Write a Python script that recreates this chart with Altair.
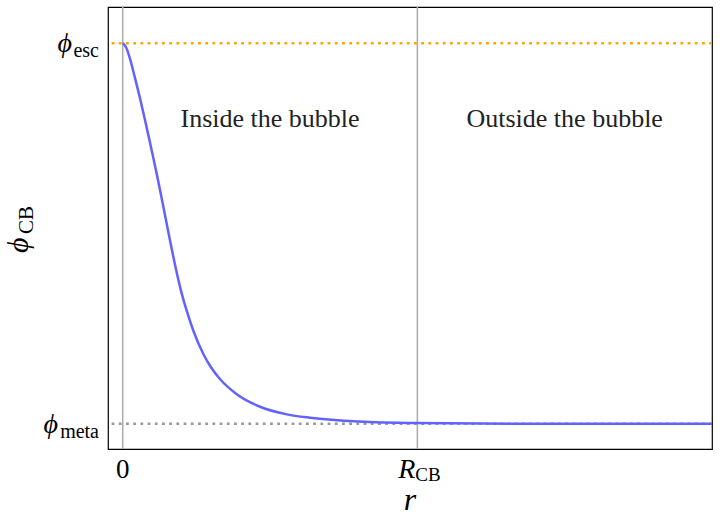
import altair as alt
import pandas as pd

# ---- data ----
r_vals = [0.0, 0.012, 0.025, 0.042, 0.059, 0.075, 0.090, 0.104, 0.115, 0.130,
          0.144, 0.161, 0.178, 0.197, 0.220, 0.240, 0.274, 0.300, 0.330, 0.387,
          0.466, 0.557, 0.636, 0.800, 1.0, 1.4, 2.0]
phi_vals = [1.0, 0.988, 0.958, 0.907, 0.854, 0.800, 0.748, 0.698, 0.658, 0.601,
            0.546, 0.480, 0.416, 0.352, 0.290, 0.244, 0.183, 0.148, 0.118, 0.078,
            0.045, 0.025, 0.016, 0.006, 0.002, 0.0, 0.0]
phi_esc = 1.0
phi_meta = 0.0
r_bubble = 1.0
x_ticks = [0.0, r_bubble]
y_ticks = [phi_meta, phi_esc]
region_labels = ["Inside the bubble", "Outside the bubble"]
region_r = [0.5, 1.5]
region_phi = [0.8, 0.8]

FONT = "Liberation Serif"
X = alt.Scale(domain=[-0.05, 2.0], nice=False, zero=False)
Y = alt.Scale(domain=[-0.066, 1.095], nice=False, zero=False)

curve_df = pd.DataFrame({"r": r_vals, "phi": phi_vals})
vlines_df = pd.DataFrame({"r": x_ticks})
esc_df = pd.DataFrame({"phi": [phi_esc]})
meta_df = pd.DataFrame({"phi": [phi_meta]})
regions_df = pd.DataFrame({"r": region_r, "phi": region_phi, "label": region_labels})

axis_x = alt.Axis(values=x_ticks, labels=False, title=None, grid=False, domain=False,
                  tickColor="black", tickSize=5, tickWidth=1)
axis_y = alt.Axis(values=y_ticks, labels=False, title=None, grid=False, domain=False,
                  tickColor="black", tickSize=5, tickWidth=1)

vlines = alt.Chart(vlines_df).mark_rule(color="#aaaaaa", strokeWidth=1.5).encode(
    x=alt.X("r:Q", scale=X, axis=axis_x),
)
meta_line = alt.Chart(meta_df).mark_rule(color="#999999", strokeWidth=2.5,
                                         strokeDash=[2.8, 4.4]).encode(
    y=alt.Y("phi:Q", scale=Y, axis=axis_y),
)
esc_line = alt.Chart(esc_df).mark_rule(color="#ffa500", strokeWidth=2.5,
                                       strokeDash=[2.8, 4.4]).encode(
    y=alt.Y("phi:Q", scale=Y, axis=None),
)
curve = alt.Chart(curve_df).mark_line(color="#6262ff", strokeWidth=2.5,
                                      interpolate="monotone").encode(
    x=alt.X("r:Q", scale=X, axis=None),
    y=alt.Y("phi:Q", scale=Y, axis=None),
)
regions = alt.Chart(regions_df).mark_text(font=FONT, fontSize=26, color="#222222",
                                          baseline="middle", align="center").encode(
    x=alt.X("r:Q", scale=X, axis=None),
    y=alt.Y("phi:Q", scale=Y, axis=None),
    text="label:N",
)

# ---- tick labels (math style) ----
zero_lbl = alt.Chart(pd.DataFrame({"r": [0.0], "t": ["0"]})).mark_text(
    font=FONT, fontSize=27, align="center", baseline="alphabetic", color="black"
).encode(x=alt.X("r:Q", scale=X, axis=None), y=alt.value(471), text="t:N")
R_lbl = alt.Chart(pd.DataFrame({"r": [r_bubble], "t": ["R"]})).mark_text(
    font=FONT, fontSize=28, fontStyle="italic", align="right", baseline="alphabetic",
    dx=-2, color="black"
).encode(x=alt.X("r:Q", scale=X, axis=None), y=alt.value(471), text="t:N")
CB_lbl = alt.Chart(pd.DataFrame({"r": [r_bubble], "t": ["CB"]})).mark_text(
    font=FONT, fontSize=19, align="left", baseline="alphabetic", dx=-2, color="black"
).encode(x=alt.X("r:Q", scale=X, axis=None), y=alt.value(474), text="t:N")

esc_phi = alt.Chart(pd.DataFrame({"phi": [phi_esc], "t": ["ϕ"]})).mark_text(
    font=FONT, fontSize=28, fontStyle="italic", align="right", baseline="alphabetic",
    dy=9, color="black"
).encode(x=alt.value(-36), y=alt.Y("phi:Q", scale=Y, axis=None), text="t:N")
esc_sub = alt.Chart(pd.DataFrame({"phi": [phi_esc], "t": ["esc"]})).mark_text(
    font=FONT, fontSize=20, align="right", baseline="alphabetic", dy=14, color="black"
).encode(x=alt.value(-9), y=alt.Y("phi:Q", scale=Y, axis=None), text="t:N")
meta_phi = alt.Chart(pd.DataFrame({"phi": [phi_meta], "t": ["ϕ"]})).mark_text(
    font=FONT, fontSize=28, fontStyle="italic", align="right", baseline="alphabetic",
    dy=9, color="black"
).encode(x=alt.value(-50), y=alt.Y("phi:Q", scale=Y, axis=None), text="t:N")
meta_sub = alt.Chart(pd.DataFrame({"phi": [phi_meta], "t": ["meta"]})).mark_text(
    font=FONT, fontSize=20, align="right", baseline="alphabetic", dy=14, color="black"
).encode(x=alt.value(-9), y=alt.Y("phi:Q", scale=Y, axis=None), text="t:N")

# ---- axis titles ----
r_title = alt.Chart(pd.DataFrame({"t": ["r"]})).mark_text(
    font=FONT, fontSize=32, fontStyle="italic", align="center", baseline="alphabetic",
    color="black"
).encode(x=alt.value(302), y=alt.value(503), text="t:N")
phi_title = alt.Chart(pd.DataFrame({"t": ["ϕ"]})).mark_text(
    font=FONT, fontSize=30, fontStyle="italic", align="left", baseline="alphabetic",
    angle=270, color="black"
).encode(x=alt.value(-80), y=alt.value(246), text="t:N")
cb_title = alt.Chart(pd.DataFrame({"t": ["CB"]})).mark_text(
    font=FONT, fontSize=21, align="left", baseline="alphabetic",
    angle=270, color="black"
).encode(x=alt.value(-75), y=alt.value(227), text="t:N")

chart = alt.layer(
    vlines, meta_line, esc_line, curve, regions,
    zero_lbl, R_lbl, CB_lbl, esc_phi, esc_sub, meta_phi, meta_sub,
    r_title, phi_title, cb_title,
).properties(
    width=604, height=442,
    background="white",
    autosize=alt.AutoSizeParams(type="none"),
    padding={"left": 108, "top": 7, "right": 8, "bottom": 69},
).configure_view(stroke="black", strokeWidth=1.2)

chart.save("out.html", embed_options={"renderer": "svg", "actions": False})
